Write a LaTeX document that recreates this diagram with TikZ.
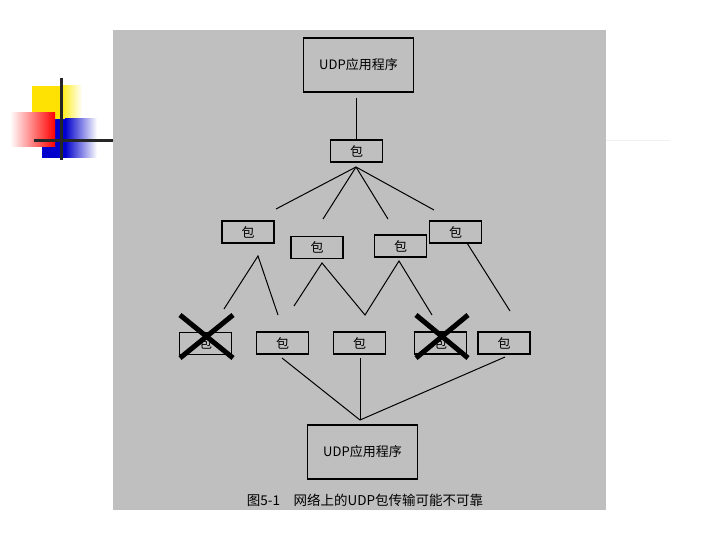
\documentclass[tikz,border=0pt]{standalone}
\usepackage{fontspec}
\newfontfamily\cjk{Noto Sans CJK SC}
\begin{document}
\begin{tikzpicture}[x=1pt,y=-1pt,
  box/.style={draw=black,line width=1.6pt,inner sep=0pt,font=\cjk\fontsize{13}{13}\selectfont},
  pkt/.style={box,minimum width=52pt,minimum height=22pt},
  app/.style={box,minimum width=110pt,minimum height=54pt,font=\cjk\fontsize{13}{13}\selectfont},
  link/.style={draw=black,line width=1pt},
  cross/.style={draw=black,line width=5pt}]
\useasboundingbox (0,0) rectangle (720,540);
% logo
\fill[yellow!85!orange] (32,86) rectangle (60,119);
\shade[left color=yellow!85!orange,right color=white] (60,86) rectangle (82,119);
\fill[blue!80!black] (42,119) rectangle (65,158);
\shade[left color=blue!80!black,right color=white] (65,119) rectangle (97,158);
\shade[left color=white,right color=red] (10,113) rectangle (55,147);
\draw[line width=3pt,black!85] (61,78) -- (61,160);
\draw[line width=3pt,black!85] (34,141) -- (113,141);
\draw[line width=1pt,black!6] (606,141) -- (670,141);
% background
\fill[black!25] (113,30) rectangle (606,510);
% nodes
\node[app] (top) at (358.5,65) {UDP应用程序};
\node[pkt] (p0) at (356.5,151) {包};
\node[pkt] (p1) at (248,232) {包};
\node[pkt] (p2) at (317,247.5) {包};
\node[pkt] (p3) at (400.5,246) {包};
\node[pkt] (p4) at (455.5,232) {包};
\node[pkt] (q1) at (205.5,343.5) {包};
\node[pkt] (q2) at (282.5,343) {包};
\node[pkt] (q3) at (359.5,343) {包};
\node[pkt] (q4) at (440.5,343) {包};
\node[pkt] (q5) at (504,343) {包};
\node[app] (bot) at (362.5,452) {UDP应用程序};
\node[font=\cjk\fontsize{13.5}{13.5}\selectfont,inner sep=0pt] (cap) at (365,500) {图5-1\hspace{1em}网络上的UDP包传输可能不可靠};
% connectors
\draw[link] (top.south) ++(-2,5) coordinate (t1) -- (p0.north);
\coordinate (a0) at (356,167);
\coordinate (e1) at (276,209);
\coordinate (e2) at (323,219);
\coordinate (e3) at (388,219);
\coordinate (e4) at (434,210);
\foreach \e in {e1,e2,e3,e4} \draw[link] (a0) -- (\e);
\coordinate (b1) at (258,256);
\coordinate (l1) at (224,309);
\coordinate (r1) at (278,315);
\draw[link] (l1) -- (b1) -- (r1);
\coordinate (b2) at (322,263);
\coordinate (l2) at (294,306);
\coordinate (m23) at (365,315);
\coordinate (b3) at (399,261);
\coordinate (r3) at (432,315);
\draw[link] (l2) -- (b2) -- (m23) -- (b3) -- (r3);
\coordinate (b4) at (467,243);
\coordinate (r4) at (510,311);
\draw[link] (b4) -- (r4);
\coordinate (c0) at (360,420);
\coordinate (s2) at (282,358);
\coordinate (s3) at (360,358);
\coordinate (s5) at (505,357);
\draw[link] (s2) -- (c0) -- (s5);
\draw[link] (s3) -- (c0);
% crosses
\draw[cross] (180,315) -- (233,358);
\draw[cross] (233,315) -- (180,358);
\draw[cross] (416,315) -- (468,358);
\draw[cross] (468,315) -- (416,358);
\end{tikzpicture}
\end{document}
